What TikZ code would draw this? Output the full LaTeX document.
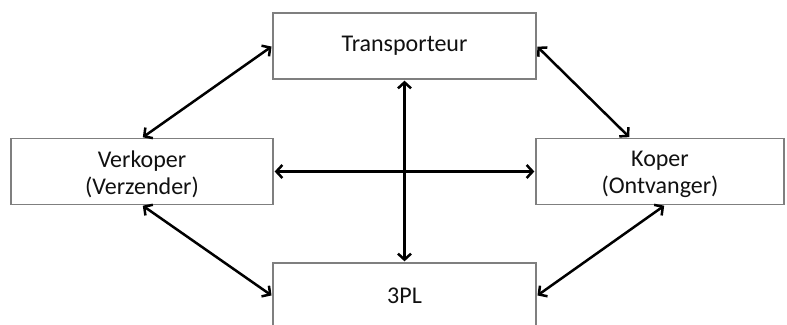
\documentclass[tikz,border=0pt]{standalone}
\usepackage{fontspec}
\setmainfont{Carlito}
\usetikzlibrary{arrows.meta,calc}
\definecolor{boxline}{HTML}{7F7F7F}
\definecolor{txt}{HTML}{111111}
\begin{document}
\begin{tikzpicture}[x=1pt,y=-1pt,
  party/.style={draw=boxline,line width=1.3pt,fill=white,rectangle,
    minimum height=66pt,inner sep=0pt,align=center,text=txt,
    font=\fontsize{24}{27}\selectfont},
  link/.style={line width=2.5pt,{Straight Barb[length=6pt,width=13pt,line width=2.5pt]}-{Straight Barb[length=6pt,width=13pt,line width=2.5pt]},shorten <=1pt,shorten >=1pt}]
  \path[use as bounding box] (0,0) rectangle (787,324);
  \clip (0,0) rectangle (787,324);
  % the four parties
  \node[party,minimum width=263pt] (trans) at (404.5,46) {Transporteur};
  \node[party,minimum width=262pt] (verk) at (142,171.5) {};
  \node[party,minimum width=248pt] (koper) at (660,171.5) {};
  \node[party,minimum width=263pt] (tpl) at (404.5,296) {3PL};
  % two-line labels, set a little below the box centres
  \node[align=center,text=txt,font=\fontsize{24}{27}\selectfont,inner sep=0pt]
    (verktxt) at ([yshift=-3pt]verk.center) {Verkoper\\(Verzender)};
  \node[align=center,text=txt,font=\fontsize{24}{27}\selectfont,inner sep=0pt]
    (kopertxt) at ([yshift=-3pt]koper.center) {Koper\\(Ontvanger)};
  % two-way relations
  \draw[link] (trans.west) -- (verk.north);
  \draw[link] (trans.east) -- ([xshift=-30pt]koper.north);
  \draw[link] (trans.south) -- (tpl.north);
  \draw[link] (verk.east) -- (koper.west);
  \draw[link] (verk.south) -- (tpl.west);
  \draw[link] ([xshift=5pt]koper.south) -- (tpl.east);
\end{tikzpicture}
\end{document}
